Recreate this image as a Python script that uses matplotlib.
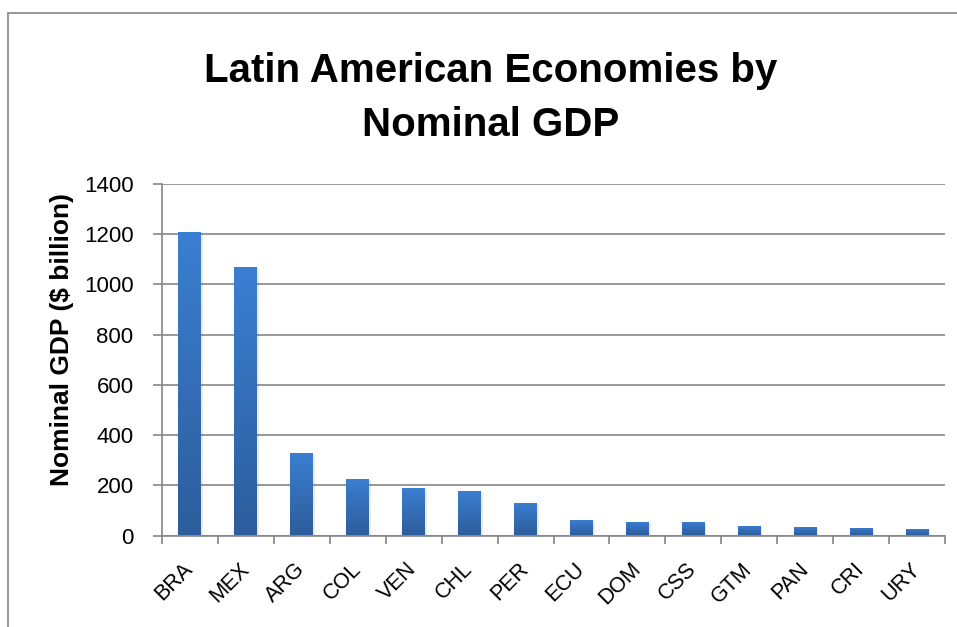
import numpy as np
import matplotlib
matplotlib.use("Agg")
import matplotlib.pyplot as plt
from matplotlib.patches import Rectangle

countries = ["BRA", "MEX", "ARG", "COL", "VEN", "CHL", "PER",
             "ECU", "DOM", "CSS", "GTM", "PAN", "CRI", "URY"]
gdp = [1209, 1069, 329, 225, 189, 177, 129, 62, 54, 54, 38, 34, 30, 26]
yticks = [0, 200, 400, 600, 800, 1000, 1200, 1400]

W, H = 957, 627
GRAY = "#868686"
plt.rcParams["font.family"] = ["Liberation Sans", "DejaVu Sans"]

fig = plt.figure(figsize=(W / 100, H / 100), dpi=100)

# outer chart frame (right/bottom edges run off the picture)
frame = Rectangle((8 / W, -0.2), 1.5, 1 - 13 / H + 0.2, transform=fig.transFigure,
                  fill=False, edgecolor=GRAY, linewidth=1.2)
fig.patches.append(frame)

ax = fig.add_axes([162 / W, 1 - 535.5 / H, (945 - 162) / W, (535.5 - 184) / H])

x = np.arange(len(countries))
bars = ax.bar(x, gdp, width=0.41, color="none", edgecolor="none", zorder=3)

# vertical gradient on each bar, lighter at the top
grad = np.linspace(0, 1, 256).reshape(-1, 1)
cmap = matplotlib.colors.LinearSegmentedColormap.from_list("bar", ["#2d5d9c", "#3b7fd2"])
for b in bars:
    x0, w, h = b.get_x(), b.get_width(), b.get_height()
    shadow = Rectangle((x0 + 0.03, 0), w, h - 4, facecolor="#000000", alpha=0.08,
                       edgecolor="none", zorder=2)
    ax.add_patch(shadow)
    im = ax.imshow(grad, extent=(x0, x0 + w, 0, h), origin="lower", cmap=cmap,
                   aspect="auto", zorder=3)
    im.set_clip_path(b)

ax.set_xlim(-0.5, len(countries) - 0.5)
ax.set_ylim(0, 1400)
ax.set_yticks(yticks)
ax.set_yticklabels([str(v) for v in yticks])
ax.yaxis.grid(True, color=GRAY, linewidth=1.2, zorder=0)
ax.set_axisbelow(True)

ax.set_xticks(x)
ax.set_xticklabels(countries, rotation=45, ha="right", va="center",
                   rotation_mode="anchor")
ax.set_xticks(np.arange(len(countries) + 1) - 0.5, minor=True)
ax.tick_params(axis="x", which="major", length=0, pad=22, labelsize=15.5)
ax.tick_params(axis="x", which="minor", length=6, width=1.2, color=GRAY, direction="out")
ax.tick_params(axis="y", length=6.5, width=1.2, color=GRAY, pad=14, labelsize=16)

for s in ["top", "right"]:
    ax.spines[s].set_visible(False)
for s in ["left", "bottom"]:
    ax.spines[s].set_color(GRAY)
    ax.spines[s].set_linewidth(1.2)

fig.text(491 / W, 1 - 52 / H, "Latin American Economies by\nNominal GDP",
         ha="center", va="top", fontsize=29, fontweight="bold", linespacing=1.55)
fig.text(62 / W, 1 - 339 / H, "Nominal GDP ($ billion)", rotation=90,
         ha="center", va="center", fontsize=19, fontweight="bold")

fig.savefig("out.png", dpi=100)
